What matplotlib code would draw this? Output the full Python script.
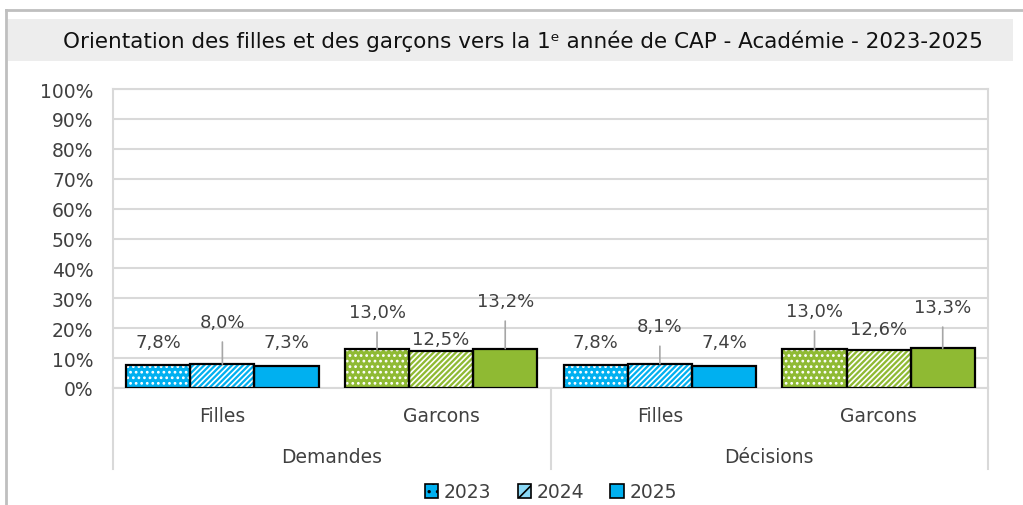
import matplotlib.pyplot as plt
from matplotlib.patches import Patch, Rectangle
from matplotlib.lines import Line2D
import matplotlib.transforms as mtransforms

# values (percent)
groups = ["Demandes", "Décisions"]
sexes = ["Filles", "Garcons"]
years = ["2023", "2024", "2025"]
v2023 = [7.8, 13.0, 7.8, 13.0]
v2024 = [8.0, 12.5, 8.1, 12.6]
v2025 = [7.3, 13.2, 7.4, 13.3]

# where each data label sits (layout only, in axis units)
lab2023 = [15.4, 25.4, 15.4, 25.8]
lab2024 = [22.1, 16.4, 20.7, 19.7]
lab2025 = [15.4, 29.1, 15.4, 27.1]

blue = "#00b0f0"
green = "#8fba33"
grey_txt = "#404040"
grid_c = "#d9d9d9"

plt.rcParams["font.family"] = ["DejaVu Sans"]
plt.rcParams["hatch.linewidth"] = 1.2

fig = plt.figure(figsize=(10.23, 5.06), dpi=100)
W, H = 1023, 506

# outer frame and title band
fig.add_artist(Line2D([6 / W, 6 / W], [0, 1 - 11 / H], color="#bfbfbf", lw=2, transform=fig.transFigure))
fig.add_artist(Line2D([6 / W, 1], [1 - 11 / H, 1 - 11 / H], color="#bfbfbf", lw=2, transform=fig.transFigure))
fig.add_artist(Rectangle((8 / W, 1 - 62 / H), 1005 / W, 42 / H, facecolor="#ededed",
                         edgecolor="none", transform=fig.transFigure))
fig.text(523 / W, 1 - 41 / H, "Orientation des filles et des garçons vers la 1ᵉ année de CAP - Académie - 2023-2025",
         ha="center", va="center", fontsize=15.5, color="#111111")

ax = fig.add_axes([113 / W, 1 - 389 / H, 875 / W, 299 / H])
ax.set_xlim(-0.5, 3.5)
ax.set_ylim(0, 100)
ax.set_yticks(range(0, 101, 10))
ax.set_yticklabels([f"{t}%" for t in range(0, 101, 10)], fontsize=13.5, color=grey_txt)
ax.tick_params(axis="y", length=0, pad=14)
ax.set_xticks([])
ax.grid(axis="y", color=grid_c, lw=1.5)
ax.set_axisbelow(True)
for s in ax.spines.values():
    s.set_color(grid_c)
    s.set_linewidth(1.5)

x = [0, 1, 2, 3]
colors = [blue, green, blue, green]
w = 0.293
series = [(v2023, lab2023, "..."), (v2024, lab2024, "//////"), (v2025, lab2025, None)]
for i, (vals, labs, hatch) in enumerate(series):
    xs = [xi + (i - 1) * w for xi in x]
    ax.bar(xs, vals, w, color=colors, edgecolor="none", zorder=2)
    if hatch:
        ax.bar(xs, vals, w, facecolor="none", edgecolor="white", hatch=hatch, lw=0, zorder=3)
    ax.bar(xs, vals, w, facecolor="none", edgecolor="black", lw=1.6, zorder=4)
    for xi, v, ly in zip(xs, vals, labs):
        txt = f"{v:.1f}%".replace(".", ",")
        if ly - v > 10:
            ax.annotate(txt, xy=(xi, v), xytext=(xi, ly), ha="center", va="center",
                        fontsize=13, color=grey_txt, zorder=5,
                        arrowprops=dict(arrowstyle="-", color="#a6a6a6", lw=1.2,
                                        shrinkA=6, shrinkB=0))
        else:
            ax.text(xi, ly, txt, ha="center", va="center", fontsize=13, color=grey_txt, zorder=5)

# multi-level category axis
tr = mtransforms.blended_transform_factory(ax.transData, ax.transAxes)
for xv in [-0.5, 1.5, 3.5]:
    ax.plot([xv, xv], [0, -81 / 299], color=grid_c, lw=1.5, transform=tr, clip_on=False)
for xi in x:
    ax.text(xi, -28 / 299, sexes[xi % 2], transform=tr, ha="center", va="center",
            fontsize=13.5, color=grey_txt)
for g, gx in zip(groups, [0.5, 2.5]):
    ax.text(gx, -69 / 299, g, transform=tr, ha="center", va="center", fontsize=13.5, color=grey_txt)

handles = [
    Patch(facecolor=blue, edgecolor="black", hatch="..", lw=1.2),
    Patch(facecolor="#8ad8f5", edgecolor="black", hatch="//", lw=1.2),
    Patch(facecolor=blue, edgecolor="black", lw=1.2),
]
leg = fig.legend(handles, years, loc="center", bbox_to_anchor=(551 / W, 1 - 493 / H), ncol=3,
                 frameon=False, fontsize=13.5, handlelength=0.7, handleheight=0.7,
                 handletextpad=0.3, columnspacing=1.4)
for t in leg.get_texts():
    t.set_color(grey_txt)

fig.savefig("out.png", dpi=100)
